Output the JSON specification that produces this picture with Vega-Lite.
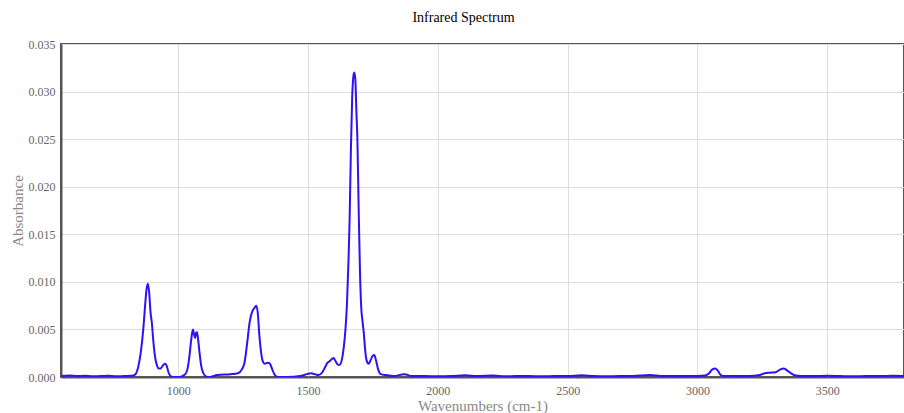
{
  "$schema": "https://vega.github.io/schema/vega-lite/v6.json",
  "autosize": "none",
  "width": 843,
  "height": 333,
  "padding": {"left": 61, "top": 44, "right": 0, "bottom": 36},
  "background": "white",
  "title": {"text": "Infrared Spectrum", "font": "Liberation Serif", "fontSize": 14, "fontWeight": "normal", "color": "#000", "anchor": "middle", "dx": -19, "offset": 13},
  "config": {
    "view": {"stroke": "#555", "strokeWidth": 2},
    "axis": {"labelFont": "Liberation Serif", "titleFont": "Liberation Serif", "labelColor": "#666", "titleColor": "#888", "labelFontSize": 12, "titleFontSize": 15, "titleFontWeight": "normal", "gridColor": "#dddddd", "gridWidth": 1, "ticks": false, "domainColor": "#555", "domainWidth": 2}
  },
  "data": {"values": [
    {"wn": 550, "abs": 0.0001}, {"wn": 580, "abs": 0.00015}, {"wn": 610, "abs": 0.0001}, {"wn": 640, "abs": 0.00012},
    {"wn": 670, "abs": 0.00008}, {"wn": 700, "abs": 0.0001}, {"wn": 730, "abs": 0.00012}, {"wn": 760, "abs": 0.00008},
    {"wn": 790, "abs": 0.0001}, {"wn": 820, "abs": 0.00012}, {"wn": 835, "abs": 0.0003}, {"wn": 845, "abs": 0.001},
    {"wn": 855, "abs": 0.0025}, {"wn": 865, "abs": 0.005}, {"wn": 872, "abs": 0.0075}, {"wn": 878, "abs": 0.0093},
    {"wn": 883, "abs": 0.0098}, {"wn": 888, "abs": 0.0088}, {"wn": 893, "abs": 0.0068}, {"wn": 898, "abs": 0.0057},
    {"wn": 903, "abs": 0.004}, {"wn": 910, "abs": 0.0022}, {"wn": 918, "abs": 0.0012}, {"wn": 925, "abs": 0.0009},
    {"wn": 932, "abs": 0.0009}, {"wn": 940, "abs": 0.0012}, {"wn": 948, "abs": 0.0014}, {"wn": 955, "abs": 0.0012},
    {"wn": 962, "abs": 0.0005}, {"wn": 970, "abs": 0.0001}, {"wn": 985, "abs": 0.0}, {"wn": 1000, "abs": 0.0},
    {"wn": 1015, "abs": 0.0001}, {"wn": 1027, "abs": 0.0003}, {"wn": 1035, "abs": 0.0008}, {"wn": 1042, "abs": 0.002},
    {"wn": 1048, "abs": 0.0035}, {"wn": 1053, "abs": 0.0046}, {"wn": 1057, "abs": 0.005}, {"wn": 1061, "abs": 0.0044},
    {"wn": 1065, "abs": 0.0041}, {"wn": 1068, "abs": 0.0046}, {"wn": 1072, "abs": 0.0047}, {"wn": 1076, "abs": 0.004},
    {"wn": 1082, "abs": 0.0025}, {"wn": 1088, "abs": 0.0012}, {"wn": 1095, "abs": 0.0005}, {"wn": 1104, "abs": 0.0001},
    {"wn": 1120, "abs": 0.0}, {"wn": 1150, "abs": 0.0002}, {"wn": 1200, "abs": 0.0003}, {"wn": 1230, "abs": 0.0004},
    {"wn": 1245, "abs": 0.0008}, {"wn": 1255, "abs": 0.0015}, {"wn": 1265, "abs": 0.0035}, {"wn": 1275, "abs": 0.0058},
    {"wn": 1285, "abs": 0.0069}, {"wn": 1292, "abs": 0.0072}, {"wn": 1300, "abs": 0.0075}, {"wn": 1306, "abs": 0.0068},
    {"wn": 1312, "abs": 0.0045}, {"wn": 1318, "abs": 0.0028}, {"wn": 1325, "abs": 0.0017}, {"wn": 1333, "abs": 0.0014},
    {"wn": 1345, "abs": 0.0015}, {"wn": 1353, "abs": 0.0014}, {"wn": 1362, "abs": 0.0008}, {"wn": 1372, "abs": 0.0002},
    {"wn": 1385, "abs": 0.0}, {"wn": 1420, "abs": 0.0}, {"wn": 1470, "abs": 0.0001}, {"wn": 1495, "abs": 0.0003},
    {"wn": 1511, "abs": 0.0004}, {"wn": 1525, "abs": 0.0003}, {"wn": 1540, "abs": 0.0002}, {"wn": 1555, "abs": 0.0005},
    {"wn": 1565, "abs": 0.001}, {"wn": 1575, "abs": 0.0015}, {"wn": 1585, "abs": 0.0017}, {"wn": 1592, "abs": 0.0019},
    {"wn": 1598, "abs": 0.002}, {"wn": 1605, "abs": 0.0017}, {"wn": 1615, "abs": 0.0013}, {"wn": 1622, "abs": 0.0013},
    {"wn": 1630, "abs": 0.0018}, {"wn": 1637, "abs": 0.003}, {"wn": 1644, "abs": 0.005}, {"wn": 1650, "abs": 0.0078},
    {"wn": 1656, "abs": 0.0125}, {"wn": 1660, "abs": 0.0165}, {"wn": 1665, "abs": 0.024}, {"wn": 1670, "abs": 0.0295},
    {"wn": 1675, "abs": 0.0317}, {"wn": 1678, "abs": 0.032}, {"wn": 1682, "abs": 0.0313}, {"wn": 1686, "abs": 0.028},
    {"wn": 1690, "abs": 0.025}, {"wn": 1695, "abs": 0.0175}, {"wn": 1700, "abs": 0.011}, {"wn": 1705, "abs": 0.0072},
    {"wn": 1710, "abs": 0.0058}, {"wn": 1715, "abs": 0.0045}, {"wn": 1720, "abs": 0.0028}, {"wn": 1725, "abs": 0.0018},
    {"wn": 1733, "abs": 0.0014}, {"wn": 1740, "abs": 0.0017}, {"wn": 1748, "abs": 0.0022}, {"wn": 1755, "abs": 0.0023},
    {"wn": 1762, "abs": 0.0017}, {"wn": 1770, "abs": 0.0008}, {"wn": 1780, "abs": 0.0003}, {"wn": 1800, "abs": 0.0002},
    {"wn": 1830, "abs": 0.0001}, {"wn": 1871, "abs": 0.0003}, {"wn": 1900, "abs": 0.0001}, {"wn": 1950, "abs": 0.0001},
    {"wn": 2000, "abs": 0.00008}, {"wn": 2050, "abs": 0.0001}, {"wn": 2105, "abs": 0.00018}, {"wn": 2150, "abs": 0.0001},
    {"wn": 2213, "abs": 0.00015}, {"wn": 2260, "abs": 0.00008}, {"wn": 2300, "abs": 0.0001}, {"wn": 2350, "abs": 0.0001},
    {"wn": 2400, "abs": 0.00008}, {"wn": 2450, "abs": 0.0001}, {"wn": 2500, "abs": 0.0001}, {"wn": 2554, "abs": 0.00018},
    {"wn": 2600, "abs": 0.0001}, {"wn": 2650, "abs": 0.00008}, {"wn": 2700, "abs": 0.0001}, {"wn": 2750, "abs": 0.0001},
    {"wn": 2818, "abs": 0.0002}, {"wn": 2860, "abs": 0.0001}, {"wn": 2900, "abs": 0.0001}, {"wn": 2950, "abs": 0.0001},
    {"wn": 3000, "abs": 0.0001}, {"wn": 3030, "abs": 0.00015}, {"wn": 3045, "abs": 0.0004}, {"wn": 3058, "abs": 0.0008},
    {"wn": 3068, "abs": 0.0009}, {"wn": 3078, "abs": 0.0007}, {"wn": 3090, "abs": 0.0002}, {"wn": 3105, "abs": 0.0001},
    {"wn": 3150, "abs": 0.0001}, {"wn": 3200, "abs": 0.0001}, {"wn": 3240, "abs": 0.0002}, {"wn": 3260, "abs": 0.0004},
    {"wn": 3280, "abs": 0.00045}, {"wn": 3300, "abs": 0.0005}, {"wn": 3320, "abs": 0.0008}, {"wn": 3332, "abs": 0.0009},
    {"wn": 3345, "abs": 0.0007}, {"wn": 3360, "abs": 0.0004}, {"wn": 3378, "abs": 0.00015}, {"wn": 3400, "abs": 0.0001},
    {"wn": 3450, "abs": 0.0001}, {"wn": 3500, "abs": 0.00012}, {"wn": 3550, "abs": 0.0001}, {"wn": 3600, "abs": 0.00008},
    {"wn": 3650, "abs": 0.0001}, {"wn": 3700, "abs": 0.0001}, {"wn": 3750, "abs": 0.00012}, {"wn": 3800, "abs": 0.0001}
  ]},
  "mark": {"type": "line", "color": "#3010f5", "strokeWidth": 2, "interpolate": "monotone", "clip": true},
  "encoding": {
    "x": {"field": "wn", "type": "quantitative", "title": "Wavenumbers (cm-1)",
      "scale": {"domain": [548, 3796], "nice": false, "zero": false},
      "axis": {"values": [1000, 1500, 2000, 2500, 3000, 3500], "format": "d", "labelPadding": 8, "titlePadding": 2}},
    "y": {"field": "abs", "type": "quantitative", "title": "Absorbance",
      "scale": {"domain": [0, 0.035], "nice": false},
      "axis": {"values": [0, 0.005, 0.01, 0.015, 0.02, 0.025, 0.03, 0.035], "format": ".3f", "labelPadding": 6, "titlePadding": 3}}
  }
}
